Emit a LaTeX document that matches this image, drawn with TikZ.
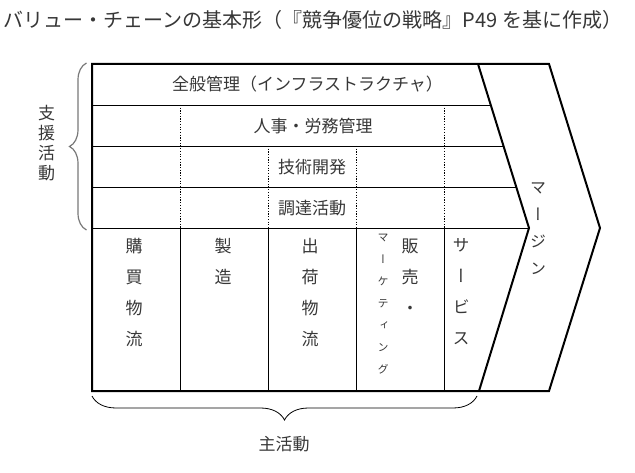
\documentclass[tikz,border=0pt]{standalone}
\usepackage{fontspec}
\usepackage{tikz}
\newfontfamily\jp{Noto Sans CJK JP}
\newfontfamily\jpv[RawFeature=+vert]{Noto Sans CJK JP}
\definecolor{tx}{RGB}{55, 55, 55}
\definecolor{bg}{RGB}{120, 120, 120}
\usetikzlibrary{decorations.pathreplacing}

\begin{document}
\begin{tikzpicture}[
  every node/.style={inner sep=0pt, text=tx},
  frame/.style={line width=2pt, color=black, line join=miter},
  cell/.style={line width=0.8pt, color=black},
  dots/.style={line width=0.8pt, color=black, dash pattern=on 1.2pt off 1.5pt},
  rowtext/.style={font=\jp\fontsize{17pt}{20pt}\selectfont},
  coltext/.style={font=\jpv\fontsize{17pt}{31pt}\selectfont, align=center, anchor=north},
  smalltext/.style={font=\jpv\fontsize{11pt}{22pt}\selectfont, align=center, anchor=north}]
\useasboundingbox (0pt, 0pt) rectangle (635pt, -473pt);
% title
\node (title) [font=\jp\fontsize{20pt}{22pt}\selectfont] at (313pt, -19.5pt) {バリュー・チェーンの基本形（『競争優位の戦略』P49 を基に作成）};
% corners of the chain
\coordinate (nw) at (92pt, -64pt);
\coordinate (sw) at (92pt, -391pt);
\coordinate (ne) at (549pt, -64pt);
\coordinate (se) at (549pt, -391pt);
\coordinate (tip) at (600pt, -228pt);
\coordinate (in) at (478pt, -64pt);
\coordinate (itip) at (529pt, -228pt);
\coordinate (is) at (479pt, -391pt);
% rows
\coordinate (r1w) at (92pt, -105pt);
\coordinate (r1e) at (490.75pt, -105pt);
\coordinate (r2w) at (92pt, -146pt);
\coordinate (r2e) at (503.5pt, -146pt);
\coordinate (r3w) at (92pt, -187pt);
\coordinate (r3e) at (516.25pt, -187pt);
\coordinate (r4w) at (92pt, -228pt);
\draw [cell] (r1w) to (r1e);
\draw [cell] (r2w) to (r2e);
\draw [cell] (r3w) to (r3e);
\draw [cell] (r4w) to (itip);
% columns
\coordinate (c1a) at (180pt, -105pt);
\coordinate (c1b) at (180pt, -228pt);
\coordinate (c1c) at (180pt, -391pt);
\coordinate (c2a) at (268pt, -146pt);
\coordinate (c2b) at (268pt, -228pt);
\coordinate (c2c) at (268pt, -391pt);
\coordinate (c3a) at (356pt, -146pt);
\coordinate (c3b) at (356pt, -228pt);
\coordinate (c3c) at (356pt, -391pt);
\coordinate (c4a) at (444pt, -105pt);
\coordinate (c4b) at (444pt, -228pt);
\coordinate (c4c) at (444pt, -391pt);
\draw [dots] (c1a) to (c1b);
\draw [dots] (c2a) to (c2b);
\draw [dots] (c3a) to (c3b);
\draw [dots] (c4a) to (c4b);
\draw [cell] (c1b) to (c1c);
\draw [cell] (c2b) to (c2c);
\draw [cell] (c3b) to (c3c);
\draw [cell] (c4b) to (c4c);
% outline
\draw [frame] (nw) -- (ne) -- (tip) -- (se) -- (sw) -- cycle;
\draw [frame] (in) -- (itip) -- (is);
% support activities
\node (infra) [rowtext] at (307.5pt, -84.5pt) {全般管理（インフラストラクチャ）};
\node (hr) [rowtext] at (313pt, -126pt) {人事・労務管理};
\node (tech) [rowtext] at (312pt, -167pt) {技術開発};
\node (proc) [rowtext] at (312pt, -208pt) {調達活動};
% primary activities
\node (inlog) [coltext] at (134pt, -238.5pt) {購\\買\\物\\流};
\node (ops) [coltext] at (223pt, -238.5pt) {製\\造};
\node (outlog) [coltext] at (310pt, -238.5pt) {出\\荷\\物\\流};
\node (sales) [coltext] at (410pt, -238.5pt) {販\\売\\・};
\node (mkt) [smalltext] at (383pt, -234pt) {マ\\ー\\ケ\\テ\\ィ\\ン\\グ};
\node (serv) [coltext] at (461pt, -238.5pt) {サ\\ー\\ビ\\ス};
\node (margin) [coltext, font=\jpv\fontsize{16pt}{27pt}\selectfont] at (538pt, -183pt) {マ\\ー\\ジ\\ン};
% braces
\coordinate (bt) at (86.5pt, -63pt);
\coordinate (bb) at (86.5pt, -230pt);
\draw [color=bg, line width=1.2pt, decorate, decoration={brace, amplitude=17pt}] (bb) -- (bt);
\node (support) [coltext, font=\jpv\fontsize{17pt}{20pt}\selectfont] at (46.5pt, -105.5pt) {支\\援\\活\\動};
\coordinate (bl) at (92pt, -396pt);
\coordinate (br) at (477pt, -396pt);
\draw [color=black, line width=0.8pt, decorate, decoration={brace, amplitude=24pt}] (br) -- (bl);
\node (primary) [rowtext] at (284pt, -444pt) {主活動};
\end{tikzpicture}
\end{document}
